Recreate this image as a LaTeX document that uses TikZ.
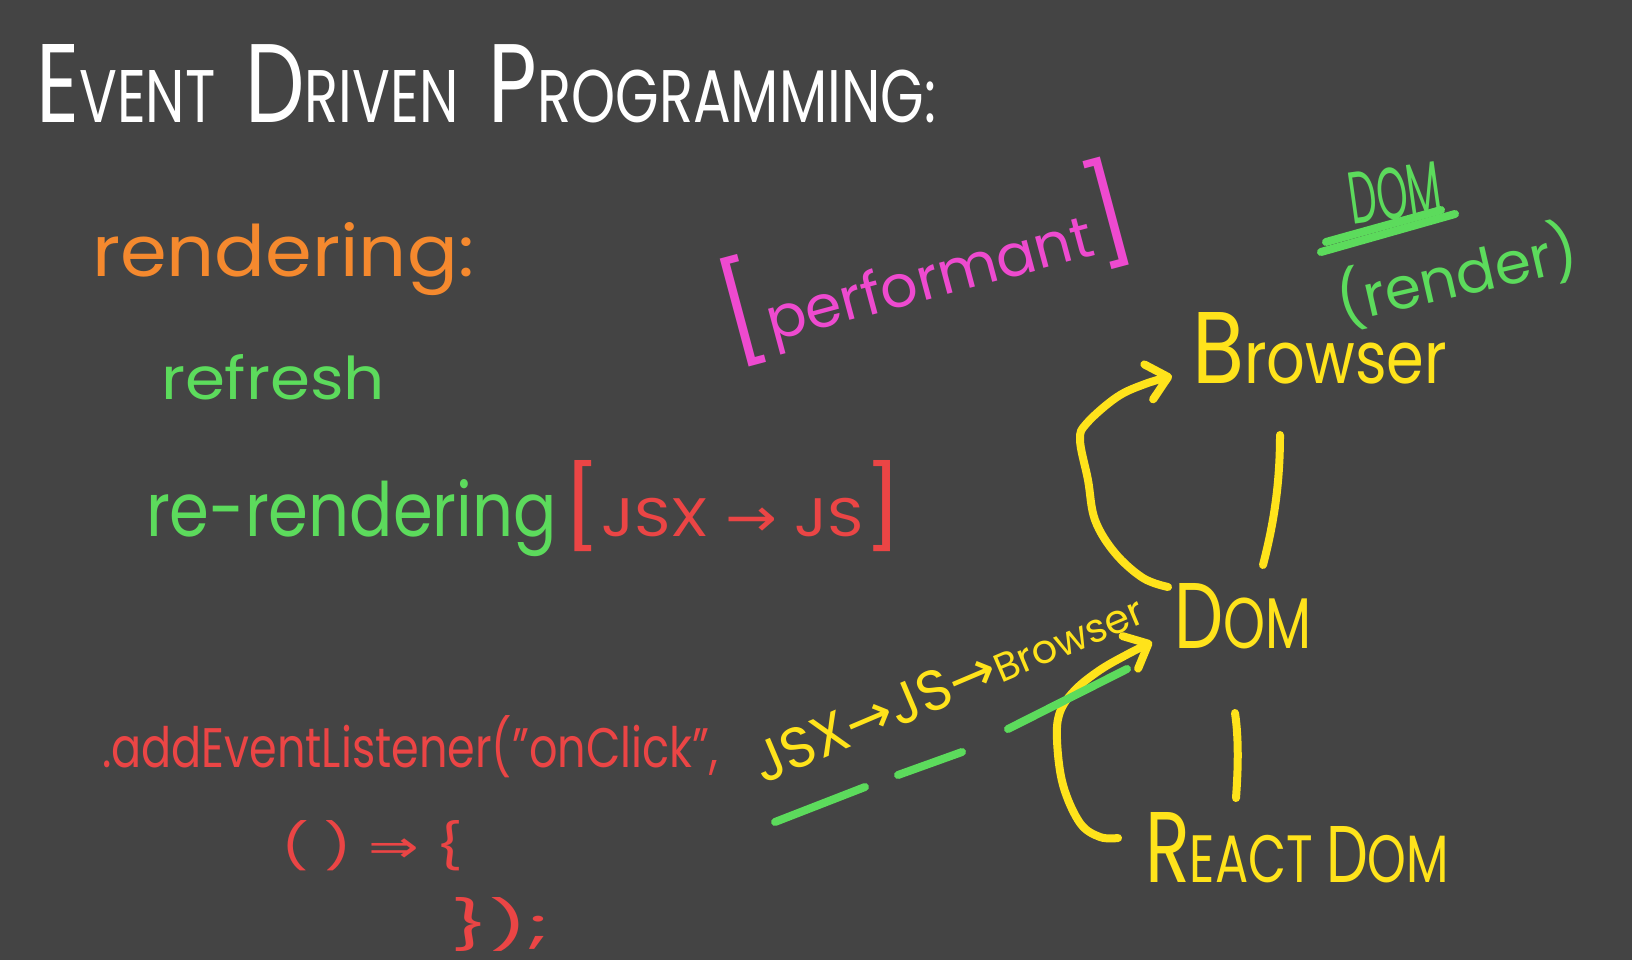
\documentclass[tikz,border=0pt]{standalone}
\usepackage{fontspec}
\usepackage{graphicx}
\setmainfont{Poppins}
\newfontfamily\arrowfont{DejaVu Sans}
\usetikzlibrary{arrows.meta,calc}
\definecolor{bgc}{HTML}{444444}
\definecolor{penwhite}{HTML}{FFFFFF}
\definecolor{penorange}{HTML}{F5892E}
\definecolor{pengreen}{HTML}{5CDB5C}
\definecolor{penmagenta}{HTML}{EE4ACF}
\definecolor{penred}{HTML}{EB4545}
\definecolor{penyellow}{HTML}{FFE31B}
\newcommand{\fitbox}[3]{\resizebox{#1pt}{#2pt}{#3}}
\newcommand{\fitw}[2]{\resizebox{#1pt}{!}{#2}}
\newcommand{\fsz}[1]{\fontsize{#1}{#1}\selectfont}
\begin{document}
\begin{tikzpicture}[x=1pt,y=-1pt,
  txt/.style={inner sep=0pt,outer sep=0pt,anchor=base west},
  ctxt/.style={inner sep=0pt,outer sep=0pt},
  pen/.style={line width=8pt,line cap=round,line join=round},
  barb/.style={-{Straight Barb[length=20pt,width=36pt,round]}}]
\fill[bgc] (0,0) rectangle (1632,960);
\useasboundingbox (0,0) rectangle (1632,960);

% title
\node[txt,text=penwhite] (title) at (36,123)
  {\fitbox{900}{78}{\fsz{20}{\fsz{30}E}VENT\ \ {\fsz{30}D}RIVEN\ \ {\fsz{30}P}ROGRAMMING:}};

% left column
\node[txt,text=penorange] (rendering) at (92,276) {\fitbox{382}{54}{\fsz{20}rendering:}};
\node[txt,text=pengreen] (refresh) at (161,399) {\fitbox{224}{45}{\fsz{20}refresh}};
\node[txt,text=pengreen] (rerender) at (146,536) {\fitbox{411}{57}{\fsz{20}re-rendering}};
\node[txt,text=penred] (jsxjs) at (562,536)
  {\fitbox{341}{76}{\fsz{20}{\fsz{30}[}JSX {\arrowfont →} JS{\fsz{30}]}}};

% performant
\node[ctxt,rotate=15,text=penmagenta] (perf) at (925,262)
  {\fitw{420}{\fsz{20}{\fsz{34}[}performant{\fsz{34}]}}};

% DOM (render)
\node[ctxt,rotate=8,text=pengreen] (domlabel) at (1395,193) {\fitbox{93}{52}{\fsz{20}DOM}};
\coordinate (ulA1) at (1326,242); \coordinate (ulA2) at (1441,210);
\coordinate (ulB1) at (1321,252); \coordinate (ulB2) at (1455,214);
\draw[pen,pengreen] (ulA1) -- (ulA2);
\draw[pen,pengreen] (ulB1) -- (ulB2);
\node[ctxt,rotate=13,text=pengreen] (render) at (1457,275) {\fitw{245}{\fsz{20}(render)}};

% right column
\node[txt,text=penyellow] (browser) at (1192,383) {\fitbox{255}{71}{\fsz{20}{\fsz{28}B}rowser}};
\node[txt,text=penyellow] (dom) at (1174,648) {\fitbox{137}{65}{\fsz{20}{\fsz{26}D}OM}};
\node[txt,text=penyellow] (reactdom) at (1145,882) {\fitbox{304}{70}{\fsz{20}{\fsz{30}R}EACT {\fsz{24}D}OM}};

% connecting lines
\coordinate (bdA) at (1280,435); \coordinate (bdB) at (1263,565);
\draw[pen,penyellow] (bdA) .. controls (1280,490) and (1272,530) .. (bdB);
\coordinate (drA) at (1235,713); \coordinate (drB) at (1236,798);
\draw[pen,penyellow] (drA) .. controls (1239,740) and (1238,770) .. (drB);

% curved arrows
\coordinate (upStart) at (1168,587);
\coordinate (upTip) at (1172,376);
\draw[pen,penyellow,barb] plot[smooth,tension=0.6] coordinates
  {(upStart) (1143,578) (1115,553) (1095,520) (1088,480) (1080,440) (1087,423) (1117,397) (1145,384) (upTip)};
\coordinate (loStart) at (1118,838);
\coordinate (loTip) at (1152,642);
\draw[pen,penyellow,barb] plot[smooth,tension=0.6] coordinates
  {(loStart) (1100,837) (1080,823) (1063,785) (1057,740) (1060,712) (1075,690) (1100,670) (1128,654) (loTip)};

% JSX -> JS -> Browser
\node[ctxt,anchor=base,rotate=23,text=penyellow] (flow) at (955,703)
  {\fitw{417}{\fsz{20}JSX{\arrowfont →}JS{\arrowfont →}{\fsz{14}Browser}}};
\coordinate (gA1) at (775,822); \coordinate (gA2) at (865,787);
\coordinate (gB1) at (898,775); \coordinate (gB2) at (962,752);
\coordinate (gC1) at (1008,729); \coordinate (gC2) at (1127,669);
\draw[pen,pengreen] (gA1) -- (gA2);
\draw[pen,pengreen] (gB1) -- (gB2);
\draw[pen,pengreen] (gC1) -- (gC2);

% code
\node[txt,text=penred] (code1) at (102,767) {\fitbox{616}{52}{\fsz{20}.addEventListener("onClick",}};
\node[txt,text=penred] (code2) at (281,862) {\fitbox{182}{42}{\fsz{20}( ) {\arrowfont ⇒} \{}};
\node[txt,text=penred] (code3) at (450,942) {\fitbox{100}{45}{\fsz{20}\});}};
\end{tikzpicture}
\end{document}
